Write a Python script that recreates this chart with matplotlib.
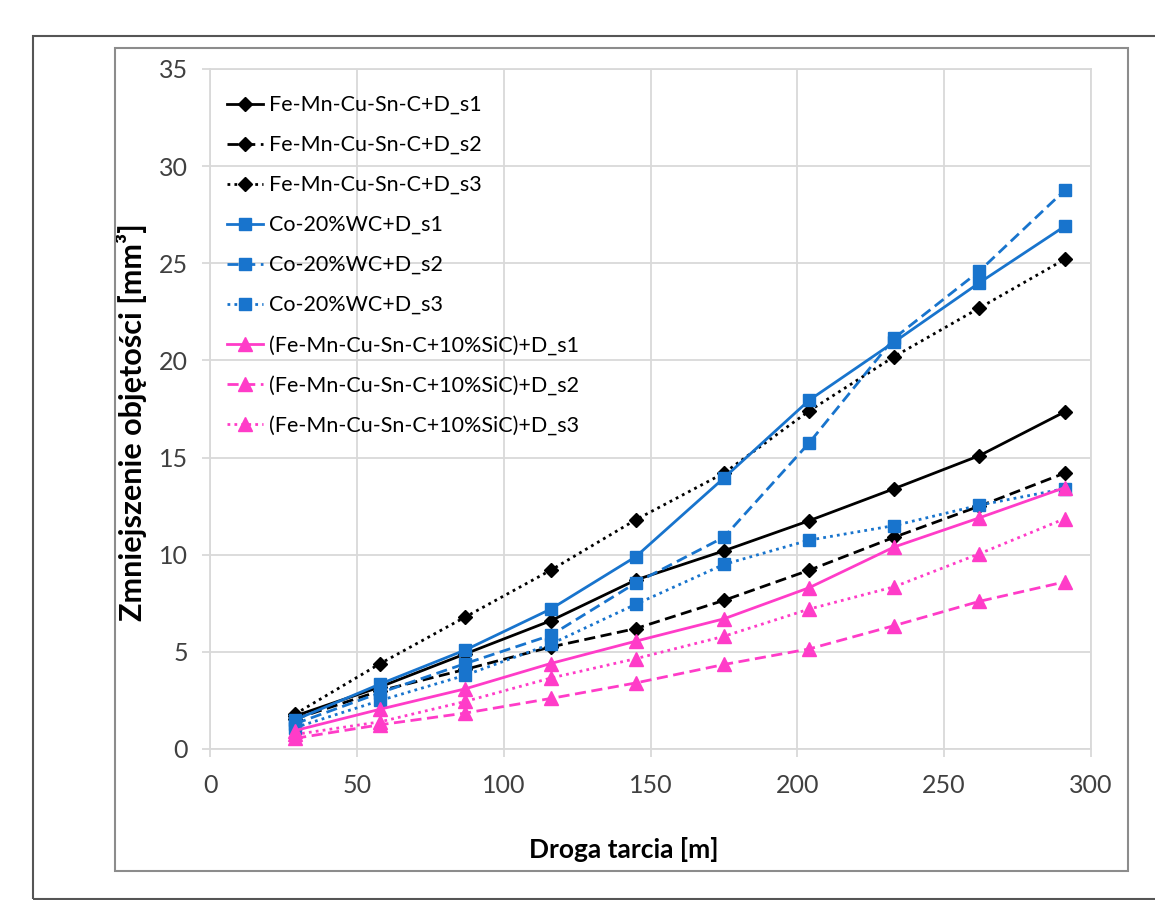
import matplotlib
matplotlib.use('Agg')
import matplotlib.pyplot as plt
from matplotlib.patches import Rectangle

plt.rcParams['font.family'] = ['Lato', 'DejaVu Sans']

# droga tarcia [m]
droga = [29, 58, 87, 116, 145, 175, 204, 233, 262, 291]

fe_s1 = [1.7, 3.2, 4.9, 6.6, 8.7, 10.2, 11.75, 13.4, 15.1, 17.35]
fe_s2 = [1.55, 3.0, 4.1, 5.25, 6.2, 7.65, 9.2, 10.9, 12.5, 14.2]
fe_s3 = [1.8, 4.4, 6.8, 9.2, 11.8, 14.2, 17.4, 20.2, 22.7, 25.2]
co_s1 = [1.5, 3.35, 5.1, 7.2, 9.9, 13.95, 17.95, 20.95, 24.0, 26.9]
co_s2 = [1.3, 2.9, 4.4, 5.85, 8.55, 10.9, 15.75, 21.15, 24.6, 28.75]
co_s3 = [1.1, 2.5, 3.8, 5.4, 7.45, 9.5, 10.75, 11.5, 12.55, 13.4]
sic_s1 = [0.95, 2.05, 3.1, 4.4, 5.55, 6.7, 8.3, 10.4, 11.9, 13.45]
sic_s2 = [0.55, 1.25, 1.85, 2.6, 3.4, 4.35, 5.15, 6.35, 7.6, 8.6]
sic_s3 = [0.75, 1.4, 2.45, 3.65, 4.65, 5.8, 7.2, 8.35, 10.05, 11.85]

labels = ['Fe-Mn-Cu-Sn-C+D_s1', 'Fe-Mn-Cu-Sn-C+D_s2', 'Fe-Mn-Cu-Sn-C+D_s3',
          'Co-20%WC+D_s1', 'Co-20%WC+D_s2', 'Co-20%WC+D_s3',
          '(Fe-Mn-Cu-Sn-C+10%SiC)+D_s1', '(Fe-Mn-Cu-Sn-C+10%SiC)+D_s2',
          '(Fe-Mn-Cu-Sn-C+10%SiC)+D_s3']

black = '#000000'
blue = '#1874CD'
pink = '#FF3CC8'
grid_c = '#D9D9D9'

series = [
    (fe_s1, black, '-', 'D', 7),
    (fe_s2, black, (0, (4, 2)), 'D', 7),
    (fe_s3, black, (0, (1, 1.5)), 'D', 7),
    (co_s1, blue, '-', 's', 9),
    (co_s2, blue, (0, (4, 2)), 's', 9),
    (co_s3, blue, (0, (1, 1.5)), 's', 9),
    (sic_s1, pink, '-', '^', 10),
    (sic_s2, pink, (0, (4, 2)), '^', 10),
    (sic_s3, pink, (0, (1, 1.5)), '^', 10),
]

fig = plt.figure(figsize=(11.55, 9), dpi=100)
ax = fig.add_axes([210/1155, 1-749/900, 881/1155, 680/900])

for (vals, c, ls, m, ms), lab in zip(series, labels):
    ax.plot(droga, vals, color=c, linestyle=ls, linewidth=2, marker=m,
            markersize=ms, label=lab, clip_on=False)

ax.set_xlim(0, 300)
ax.set_ylim(0, 35)
ax.set_xticks(range(0, 301, 50))
ax.set_yticks(range(0, 36, 5))
ax.grid(True, color=grid_c, linewidth=1.3)
ax.set_axisbelow(True)
for s in ax.spines.values():
    s.set_color(grid_c)
    s.set_linewidth(1.3)
ax.tick_params(axis='both', labelsize=18, colors='#404040', length=6,
               width=1.3, color=grid_c)
ax.tick_params(axis='y', pad=10)
ax.tick_params(axis='x', pad=12)

ax.set_xlabel('Droga tarcia [m]', fontsize=19, fontweight='bold')
ax.set_ylabel('Zmniejszenie objętości [mm³]', fontsize=22, fontweight='bold')
ax.xaxis.set_label_coords(0.47, -0.13)
ax.yaxis.set_label_coords(-0.072, 0.48)

ax.legend(loc='upper left', bbox_to_anchor=(0.0, 0.987), frameon=False,
          fontsize=15.5, handlelength=1.67, handletextpad=0.25,
          labelspacing=0.93, borderaxespad=0.4)

# ramki
fig.patches.append(Rectangle((33/1155, 1-899/900), 1.2, (899-36)/900,
                             transform=fig.transFigure, fill=False,
                             edgecolor='#555555', linewidth=1.5))
fig.patches.append(Rectangle((115/1155, 1-871/900), (1128-115)/1155,
                             (871-48)/900, transform=fig.transFigure,
                             fill=False, edgecolor='#8C8C8C', linewidth=1.5))

fig.savefig('out.png', dpi=100)
